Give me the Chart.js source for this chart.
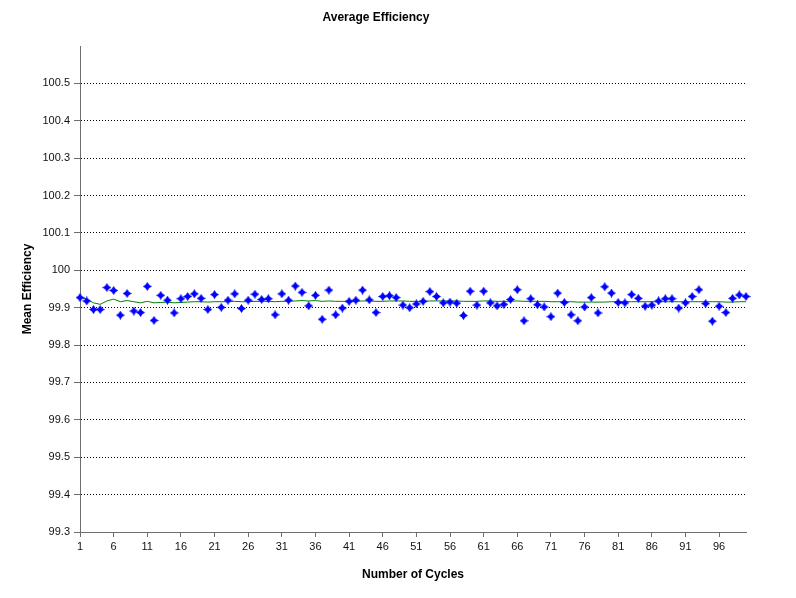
<!DOCTYPE html>
<html>
<head>
<meta charset="utf-8">
<script src="https://cdn.jsdelivr.net/npm/chart.js@4.4.1/dist/chart.umd.min.js"></script>
<style>
  body { margin: 0; background: #fff; }
  canvas { display: block; }
</style>
</head>
<body>
<canvas id="myChart" width="796" height="598"></canvas>
<script>
// cycle numbers 1..100
const cycles = [];
for (let i = 1; i <= 100; i++) cycles.push(i);

// mean efficiency per cycle (blue markers)
const efficiency = [
    99.927, 99.918, 99.895, 99.895, 99.954, 99.946, 99.880, 99.938, 99.891, 99.887,
    99.957, 99.866, 99.933, 99.920, 99.886, 99.924, 99.930, 99.937, 99.925, 99.895,
    99.935, 99.901, 99.920, 99.937, 99.898, 99.920, 99.936, 99.922, 99.924, 99.881,
    99.937, 99.920, 99.958, 99.941, 99.905, 99.933, 99.869, 99.947, 99.881, 99.899,
    99.917, 99.920, 99.947, 99.921, 99.887, 99.930, 99.932, 99.927, 99.907, 99.900,
    99.910, 99.917, 99.943, 99.930, 99.913, 99.915, 99.912, 99.879, 99.944, 99.907,
    99.944, 99.913, 99.905, 99.909, 99.922, 99.948, 99.865, 99.924, 99.908, 99.902,
    99.876, 99.939, 99.914, 99.881, 99.865, 99.902, 99.927, 99.886, 99.956, 99.939,
    99.914, 99.913, 99.935, 99.925, 99.904, 99.907, 99.918, 99.924, 99.924, 99.899,
    99.913, 99.930, 99.948, 99.911, 99.864, 99.904, 99.887, 99.925, 99.934, 99.930
];

// running average (green line)
const runningAvg = [
    99.927, 99.923, 99.913, 99.909, 99.918, 99.923, 99.916, 99.919, 99.916, 99.913,
    99.917, 99.913, 99.914, 99.915, 99.913, 99.914, 99.915, 99.916, 99.916, 99.915,
    99.916, 99.916, 99.916, 99.917, 99.916, 99.916, 99.917, 99.917, 99.917, 99.916,
    99.917, 99.917, 99.918, 99.919, 99.918, 99.919, 99.917, 99.918, 99.917, 99.917,
    99.917, 99.917, 99.918, 99.918, 99.917, 99.917, 99.918, 99.918, 99.918, 99.917,
    99.917, 99.917, 99.918, 99.918, 99.918, 99.918, 99.918, 99.917, 99.917, 99.917,
    99.918, 99.918, 99.917, 99.917, 99.917, 99.918, 99.917, 99.917, 99.917, 99.917,
    99.916, 99.916, 99.916, 99.916, 99.915, 99.915, 99.915, 99.915, 99.915, 99.916,
    99.916, 99.916, 99.916, 99.916, 99.916, 99.916, 99.916, 99.916, 99.916, 99.916,
    99.916, 99.916, 99.916, 99.916, 99.916, 99.916, 99.915, 99.915, 99.916, 99.916
];

const xTicks = [1, 6, 11, 16, 21, 26, 31, 36, 41, 46, 51, 56, 61, 66, 71, 76, 81, 86, 91, 96];
const yTicks = [99.3, 99.4, 99.5, 99.6, 99.7, 99.8, 99.9, 100, 100.1, 100.2, 100.3, 100.4, 100.5];
const yTickLabels = ["99.3", "99.4", "99.5", "99.6", "99.7", "99.8", "99.9", "100", "100.1", "100.2", "100.3", "100.4", "100.5"];

const FONT = "'Liberation Sans', Arial, sans-serif";
const AXIS_GRAY = "#6e6e6e";

// small 4 point star used as marker
function makeStar() {
    const cv = document.createElement("canvas");
    cv.width = 9;
    cv.height = 9;
    const g = cv.getContext("2d");
    const c = 4.5;
    const k = 1.8;
    g.fillStyle = "#0000ff";
    g.beginPath();
    g.moveTo(c, 0);
    g.lineTo(c + k, c - k);
    g.lineTo(9, c);
    g.lineTo(c + k, c + k);
    g.lineTo(c, 9);
    g.lineTo(c - k, c + k);
    g.lineTo(0, c);
    g.lineTo(c - k, c - k);
    g.closePath();
    g.fill();
    return cv;
}
const star = makeStar();

// title centred a bit left of the plot, as in the original
const titlePlugin = {
    id: "plainTitle",
    afterDraw(chart) {
        const c = chart.ctx;
        c.save();
        c.font = "bold 12px " + FONT;
        c.fillStyle = "#000";
        c.textAlign = "center";
        c.textBaseline = "middle";
        c.fillText("Average Efficiency", 376, 18);
        c.restore();
    },
};

const ctx = document.getElementById("myChart");

new Chart(ctx, {
    type: "line",
    data: {
        datasets: [
            {
                label: "Efficiency",
                data: cycles.map((c, i) => ({ x: c, y: efficiency[i] })),
                showLine: false,
                pointStyle: star,
                pointRadius: 4.5,
                clip: false,
                order: 0,
            },
            {
                label: "Average",
                data: cycles.map((c, i) => ({ x: c, y: runningAvg[i] })),
                borderColor: "#008000",
                borderWidth: 1,
                pointRadius: 0,
                tension: 0,
                order: 1,
            },
        ],
    },
    options: {
        responsive: false,
        animation: false,
        devicePixelRatio: 1,
        layout: {
            padding: { top: 46, right: 50, bottom: 0, left: 0 },
        },
        plugins: {
            legend: { display: false },
            tooltip: { enabled: false },
            title: { display: false },
        },
        scales: {
            x: {
                type: "linear",
                min: 1,
                max: 100,
                afterBuildTicks: (scale) => {
                    scale.ticks = xTicks.map((v) => ({ value: v }));
                },
                afterFit: (scale) => {
                    scale.height = 66;
                },
                grid: {
                    drawOnChartArea: false,
                    tickLength: 5,
                    tickColor: AXIS_GRAY,
                },
                border: { color: AXIS_GRAY, width: 1 },
                ticks: {
                    autoSkip: false,
                    maxRotation: 0,
                    padding: 3,
                    color: "#111",
                    font: { family: FONT, size: 11 },
                    callback: (v) => String(v),
                },
                title: {
                    display: true,
                    text: "Number of Cycles",
                    color: "#000",
                    font: { family: FONT, size: 12, weight: "bold" },
                    padding: { top: 0, bottom: 16 },
                },
            },
            y: {
                type: "linear",
                min: 99.3,
                max: 100.6,
                afterBuildTicks: (scale) => {
                    scale.ticks = yTicks.map((v) => ({ value: v }));
                },
                afterFit: (scale) => {
                    scale.width = 80;
                },
                grid: {
                    color: (c) => (c.index === 0 ? "rgba(0,0,0,0)" : "#000"),
                    lineWidth: 1,
                    tickLength: 6,
                    tickColor: AXIS_GRAY,
                },
                border: { color: AXIS_GRAY, width: 1, dash: [1, 2] },
                ticks: {
                    padding: 4,
                    color: "#111",
                    font: { family: FONT, size: 11 },
                    callback: (v, i) => yTickLabels[i],
                },
                title: {
                    display: true,
                    text: "Mean Efficiency",
                    color: "#000",
                    font: { family: FONT, size: 12, weight: "bold" },
                    padding: { top: 20, bottom: 0 },
                },
            },
        },
    },
    plugins: [titlePlugin],
});
</script>
</body>
</html>
